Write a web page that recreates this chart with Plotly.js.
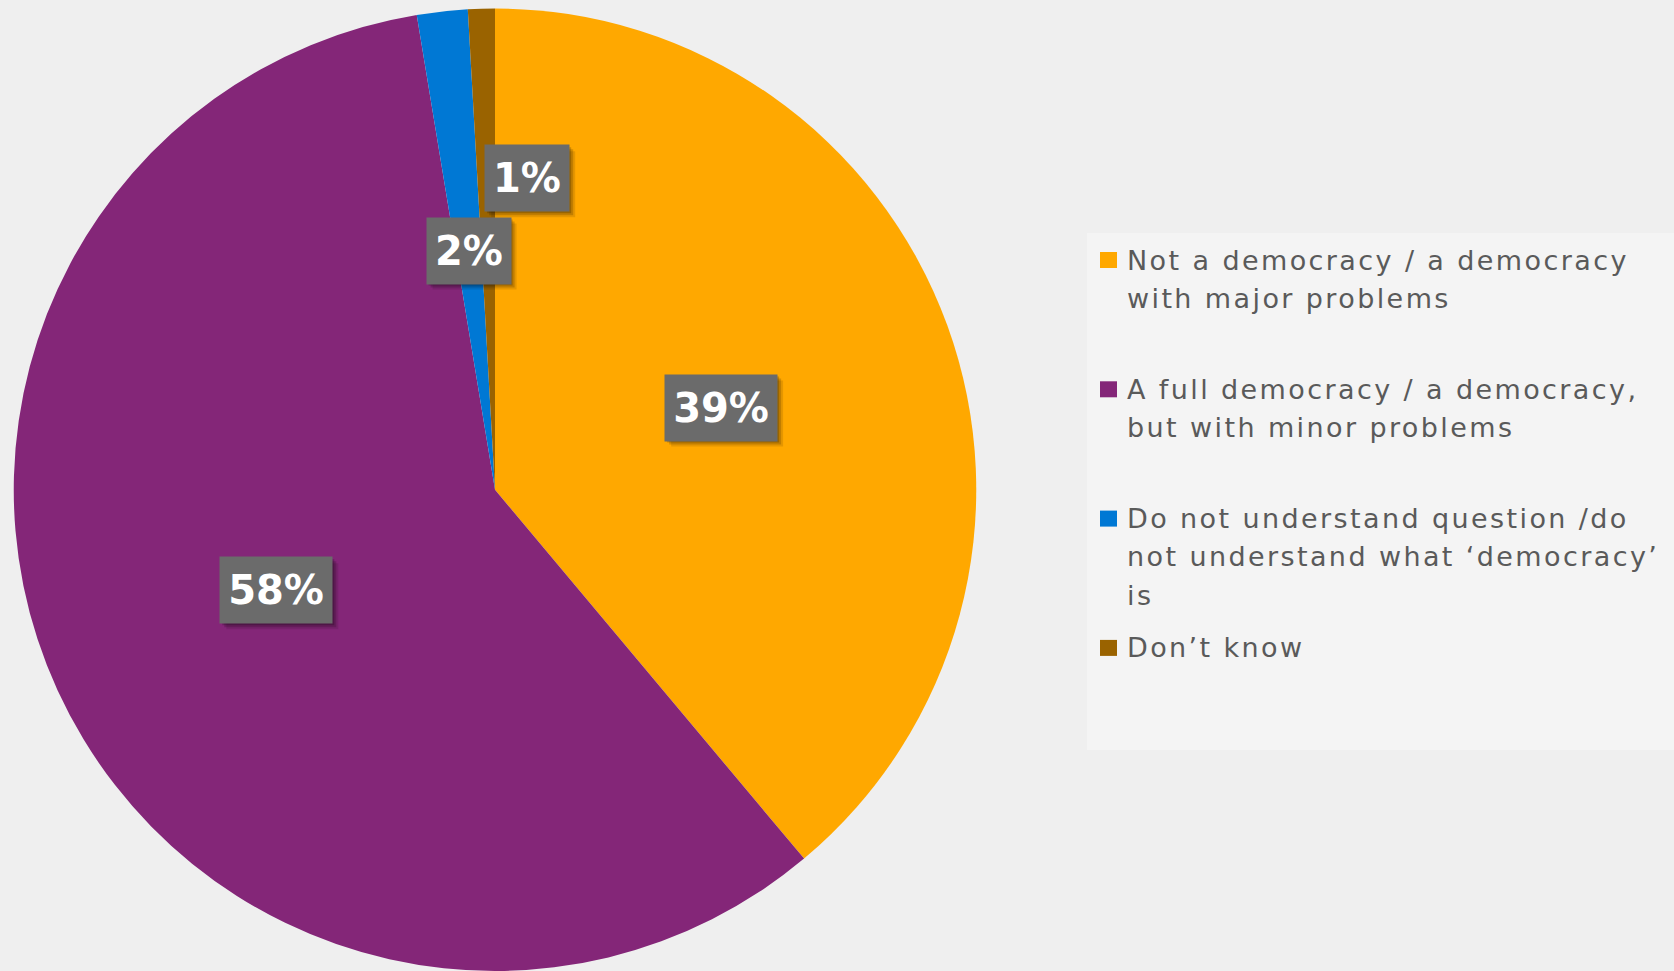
<!DOCTYPE html>
<html>
<head>
<meta charset="utf-8">
<script src="https://cdn.plot.ly/plotly-3.0.1.min.js"></script>
<style>
  html, body { margin: 0; padding: 0; background: #efefef; overflow: hidden; }
  #chart { width: 1674px; height: 971px; }
  /* widen the legend lettering (legend texts use fill #5a5a5a) */
  text.annotation-text[style*="rgb(90, 90, 90)"] { letter-spacing: 2.4px; }
</style>
</head>
<body>
<div id="chart"></div>
<script>
// ---- data ----
const categories = [
  "Not a democracy / a democracy with major problems",
  "A full democracy / a democracy, but with minor problems",
  "Do not understand question /do not understand what \u2018democracy\u2019 is",
  "Don\u2019t know"
];
const legendLines = [
  ["Not a democracy / a democracy", "with major problems"],
  ["A full democracy / a democracy,", "but with minor problems"],
  ["Do not understand question /do", "not understand what \u2018democracy\u2019", "is"],
  ["Don\u2019t know"]
];
const shares = [38.9, 58.5, 1.7, 0.9];
const pctLabels = ["39%", "58%", "2%", "1%"];
const colors = ["#FFA800", "#842678", "#0078D4", "#9A6300"];

// ---- layout geometry ----
const W = 1674, H = 971;
const pieCx = 495, pieTop = 8.5;
const R = (H - pieTop) / 2;
const pieCy = pieTop + R;
const labelShift = [[0, 0], [0, 0], [0, 0], [39, -71]]; // manual label nudges (px)
const labelFont = { family: "DejaVu Sans", size: 40, weight: "bold", color: "#ffffff" };
const pad = 8, boxTextH = 50;

const pie = {
  type: "pie",
  values: shares,
  labels: categories,
  sort: false,
  direction: "clockwise",
  rotation: 0,
  textinfo: "none",
  hoverinfo: "label+percent",
  marker: { colors: colors, line: { width: 0 } },
  domain: { x: [(pieCx - R) / W, (pieCx + R) / W], y: [0, (H - pieTop) / H] },
  showlegend: false
};

const total = shares.reduce((a, b) => a + b, 0);
const annotations = [];
const shapes = [];

// legend background panel
shapes.push({
  type: "rect", xref: "paper", yref: "paper", layer: "below",
  x0: 1087 / W, x1: 1, y0: 1 - 750 / H, y1: 1 - 233 / H,
  fillcolor: "#f4f4f4", line: { width: 0 }
});

// measure label widths
const ctx = document.createElement("canvas").getContext("2d");
ctx.font = "bold 40px 'DejaVu Sans'";

// data labels with boxes + soft shadows
let cum = 0;
shares.forEach((v, i) => {
  const theta = 2 * Math.PI * (cum + v / 2) / total;
  cum += v;
  const px = pieCx + 0.5 * R * Math.sin(theta) + labelShift[i][0];
  const py = pieCy - 0.5 * R * Math.cos(theta) + labelShift[i][1];
  const tw = Math.ceil(ctx.measureText(pctLabels[i]).width);
  const bw = tw + 2 * pad, bh = boxTextH + 2 * pad;
  [[6, 0.10], [4, 0.16], [2, 0.2]].forEach(([o, a]) => {
    shapes.push({
      type: "rect", xref: "paper", yref: "paper",
      x0: (px - bw / 2 + o) / W, x1: (px + bw / 2 + o) / W,
      y0: 1 - (py + bh / 2 + o) / H, y1: 1 - (py - bh / 2 + o) / H,
      fillcolor: "rgba(0,0,0," + a + ")", line: { width: 0 }
    });
  });
  annotations.push({
    xref: "paper", yref: "paper", x: px / W, y: 1 - py / H,
    xanchor: "center", yanchor: "middle", showarrow: false,
    text: pctLabels[i], borderpad: pad, width: tw, height: boxTextH,
    bgcolor: "#6b6b6b", font: labelFont
  });
});

// custom legend
const legTop = 260, legStep = 129.3, lineStep = 38.2;
legendLines.forEach((lines, i) => {
  const y0 = legTop + i * legStep;
  shapes.push({
    type: "rect", xref: "paper", yref: "paper",
    x0: 1100 / W, x1: 1117 / W, y0: 1 - (y0 + 8) / H, y1: 1 - (y0 - 8) / H,
    fillcolor: colors[i], line: { width: 0 }
  });
  lines.forEach((t, j) => {
    annotations.push({
      xref: "paper", yref: "paper", x: 1125 / W, y: 1 - (y0 + j * lineStep) / H,
      xanchor: "left", yanchor: "middle", showarrow: false, text: t,
      font: { family: "DejaVu Sans", size: 27, color: "#5a5a5a" }
    });
  });
});

const layout = {
  width: W, height: H,
  margin: { l: 0, r: 0, t: 0, b: 0 },
  paper_bgcolor: "#efefef",
  plot_bgcolor: "#efefef",
  showlegend: false,
  shapes: shapes,
  annotations: annotations
};

Plotly.newPlot("chart", [pie], layout, { displayModeBar: false, staticPlot: true });
</script>
</body>
</html>
